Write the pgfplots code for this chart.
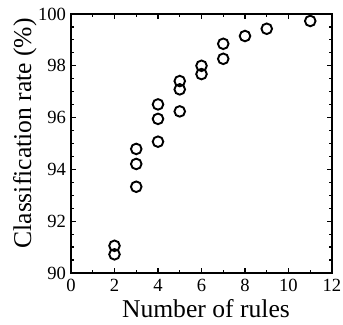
\documentclass[border=0pt]{standalone}
\usepackage{fontspec}
\setmainfont{Liberation Serif}
\usepackage{pgfplots}
\pgfplotsset{compat=1.18}
\begin{document}
\begin{tikzpicture}
\begin{axis}[
  name=ax,
  scale only axis,
  width=130.5pt, height=129.5pt,
  xmin=0, xmax=12, ymin=90, ymax=100,
  xtick={0,2,...,12}, ytick={90,92,...,100},
  minor x tick num=1, minor y tick num=3,
  tick align=inside,
  major tick length=2.6pt, minor tick length=1.5pt,
  axis line style={line width=0.9pt},
  every tick/.style={line width=0.6pt, black},
  tick label style={font=\rmfamily\fontsize{9.3}{9.3}\selectfont},
  /pgf/number format/assume math mode=true,
  xticklabel style={yshift=0.5pt},
  yticklabel style={xshift=1pt},
  xlabel={Number of rules},
  ylabel={Classification rate (\%)},
  label style={font=\rmfamily\fontsize{12.8}{13}\selectfont},
  xlabel style={at={(axis description cs:0.517,-0.17)}, anchor=base},
  ylabel style={at={(axis description cs:-0.153,0.539)}, anchor=base},
  clip=false,
]
\addplot[only marks, mark=o, mark size=2.65pt, line width=0.95pt] coordinates {
(11,99.73) (9,99.43) (8,99.15) (7,98.85) (7,98.27)
(6,98.0) (6,97.68) (5,97.41) (5,97.09) (5,96.24)
(4,96.51) (4,95.95) (4,95.07)
(3,94.79) (3,94.21) (3,93.33)
(2,91.05) (2,90.72)
};
\end{axis}
\pgfresetboundingbox
\path[use as bounding box] ([shift={(-35.5pt,-26pt)}]ax.south west) rectangle ([shift={(136pt,136.5pt)}]ax.south west);
\end{tikzpicture}
\end{document}
